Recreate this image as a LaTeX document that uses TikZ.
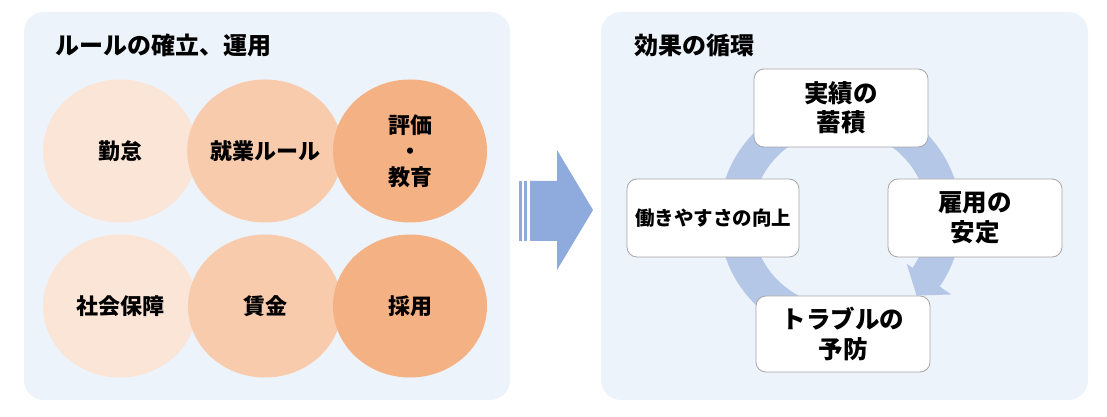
\documentclass[tikz,border=0pt]{standalone}
\usepackage{fontspec}
\setmainfont{Noto Sans CJK JP}
\usetikzlibrary{shapes.geometric}
\definecolor{panelbg}{HTML}{EDF3FB}
\definecolor{orA}{HTML}{FBE5D6}
\definecolor{orB}{HTML}{F8CBAD}
\definecolor{orC}{HTML}{F4B183}
\definecolor{bigarrow}{HTML}{8FAADC}
\definecolor{ringcol}{HTML}{B4C7E7}
\definecolor{boxline}{HTML}{A6A6A6}
\begin{document}
\begin{tikzpicture}[x=1pt,y=1pt,
  panel/.style={fill=panelbg, draw=none, rounded corners=20pt},
  ptitle/.style={anchor=west, inner sep=0pt, font=\fontsize{24}{28}\selectfont\bfseries},
  circ/.style={ellipse, draw=none, minimum width=154pt, minimum height=143pt, inner sep=0pt, align=center, font=\fontsize{22}{26}\selectfont\bfseries},
  effbox/.style={rectangle, fill=white, draw=boxline, line width=0.8pt, rounded corners=10pt, minimum width=174pt, minimum height=78pt, inner sep=0pt, align=center, font=\fontsize{24.5}{29.5}\selectfont\bfseries},
]
\useasboundingbox (0,0) rectangle (1107,417);
\fill[white] (0,0) rectangle (1107,417);
% panels
\path[panel] (24,17) rectangle (510,405);
\path[panel] (601,17) rectangle (1088,405);
\node[ptitle] (t1) at (55,372) {ルールの確立、運用};
\node[ptitle] (t2) at (634,372) {効果の循環};
% circles
\node[circ, fill=orA] (kintai) at (120,266) {勤怠};
\node[circ, fill=orB] (shugyo) at (265,266) {就業ルール};
\node[circ, fill=orC] (hyoka) at (410,266) {評価\\・\\教育};
\node[circ, fill=orA] (shakai) at (120,111) {社会保障};
\node[circ, fill=orB] (chingin) at (265,111) {賃金};
\node[circ, fill=orC] (saiyo) at (410,111) {採用};
% big arrow
\fill[bigarrow] (519,176) rectangle (522,236);
\fill[bigarrow] (524,176) rectangle (527,236);
\fill[bigarrow] (530,176) -- (557,176) -- (557,147) -- (593,207) -- (557,267) -- (557,236) -- (530,236) -- cycle;
% ring
\coordinate (rc) at (840,199);
\begin{scope}[shift={(rc)}]
\fill[ringcol] (262:121) arc[start angle=262, end angle=-34.5, radius=121]
  -- (-34.5:135) -- (-45.4:109) -- (-34.5:81) -- (-34.5:88)
  arc[start angle=-34.5, end angle=262, radius=88] -- cycle;
\end{scope}
% boxes
\node[effbox] (jisseki) at (841,309) {実績の\\蓄積};
\node[effbox] (koyo) at (975,199) {雇用の\\安定};
\node[effbox, minimum height=76pt] (trouble) at (843,83) {トラブルの\\予防};
\node[effbox, minimum width=172pt, font=\fontsize{19.5}{23}\selectfont\bfseries] (hataraki) at (713,199) {働きやすさの向上};
\end{tikzpicture}
\end{document}
